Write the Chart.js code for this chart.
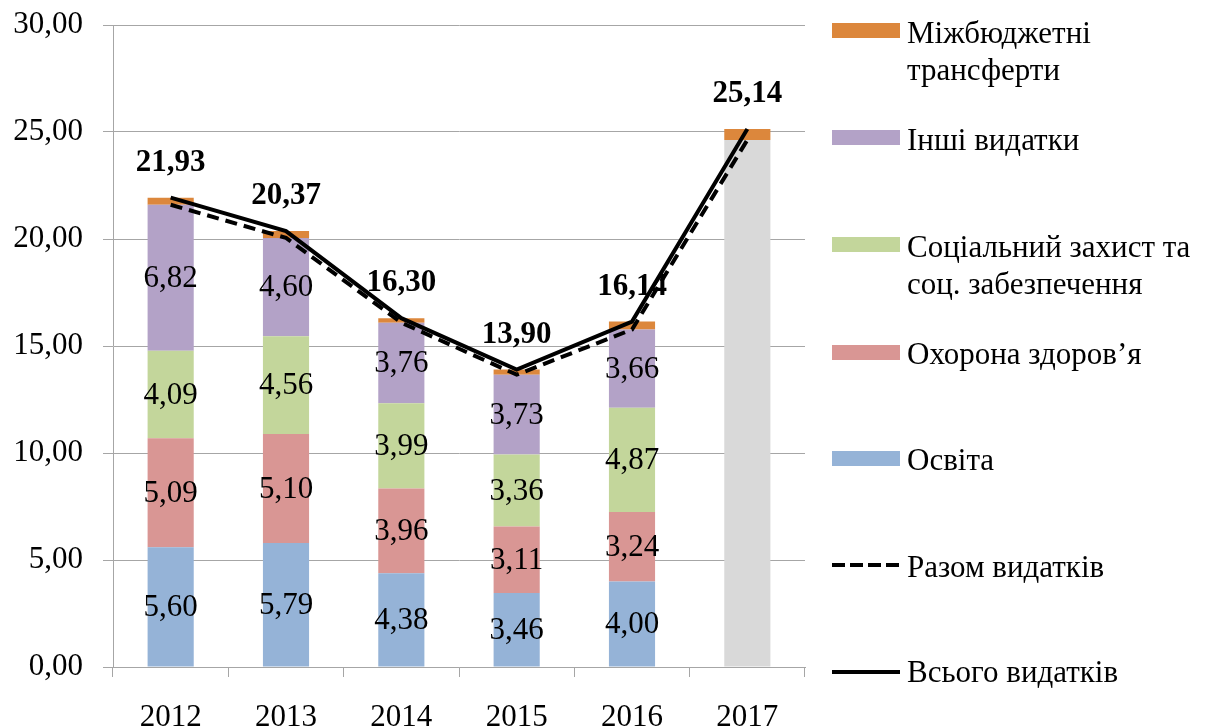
<!DOCTYPE html>
<html>
<head>
<meta charset="utf-8">
<script src="https://cdn.jsdelivr.net/npm/chart.js@4.4.0/dist/chart.umd.min.js"></script>
<style>
  html, body { margin: 0; padding: 0; background: #fff; overflow: hidden; }
  #wrap { position: relative; width: 1211px; height: 727px; }
  #wrap canvas { position: absolute; left: 0; top: 0; }
  .leg { position: absolute; left: 907px; font: 31px 'Liberation Serif', 'Times New Roman', serif; line-height: 37px; color: #000; white-space: nowrap; }
  .sw { position: absolute; left: 832px; width: 68px; }
</style>
</head>
<body>
<div id="wrap">
  <canvas id="budgetChart" width="1211" height="727"></canvas>
</div>
<script>
// data
const years = ['2012', '2013', '2014', '2015', '2016', '2017'];
const osvita = [5.60, 5.79, 4.38, 3.46, 4.00, null];
const zdorovia = [5.09, 5.10, 3.96, 3.11, 3.24, null];
const sotszakhyst = [4.09, 4.56, 3.99, 3.36, 4.87, null];
const inshi = [6.82, 4.60, 3.76, 3.73, 3.66, null];
const prognoz = [null, null, null, null, null, 24.63];
const transferty = [0.33, 0.32, 0.21, 0.24, 0.37, 0.51];
const razom = [21.60, 20.05, 16.09, 13.66, 15.77, 24.63];
const vsogo = [21.93, 20.37, 16.30, 13.90, 16.14, 25.14];
const yTicks = [0, 5, 10, 15, 20, 25, 30];

const serif = "'Liberation Serif', 'Times New Roman', serif";
const grid = '#a6a6a6';
const fmt = v => v.toFixed(2).replace('.', ',');

Chart.defaults.font.family = serif;
Chart.defaults.font.size = 31;
Chart.defaults.color = '#000';

// numbers inside segments and bold totals above the solid line
const valueLabels = {
  id: 'valueLabels',
  afterDatasetsDraw(chart) {
    const ctx = chart.ctx;
    ctx.save();
    ctx.fillStyle = '#000';
    ctx.textAlign = 'center';
    ctx.textBaseline = 'middle';
    chart.data.datasets.forEach((ds, i) => {
      if (!ds.labelMode) return;
      chart.getDatasetMeta(i).data.forEach((el, j) => {
        const v = ds.data[j];
        if (v == null) return;
        if (ds.labelMode === 'top') {
          ctx.font = 'bold 31px ' + serif;
          ctx.fillText(fmt(v), el.x, el.y - 35);
        } else {
          ctx.font = '31px ' + serif;
          ctx.fillText(fmt(v), el.x, (el.y + el.base) / 2 + 1);
        }
      });
    });
    ctx.restore();
  }
};

const ctx = document.getElementById('budgetChart').getContext('2d');
new Chart(ctx, {
  type: 'bar',
  data: {
    labels: years,
    datasets: [
      { type: 'line', label: 'Всього видатків', data: vsogo, borderColor: '#000', borderWidth: 4,
        pointRadius: 0, tension: 0, stack: 'l1', order: 0, labelMode: 'top' },
      { type: 'line', label: 'Разом видатків', data: razom, borderColor: '#000', borderWidth: 4,
        borderDash: [12, 7], pointRadius: 0, tension: 0, stack: 'l2', order: 0 },
      { label: 'Освіта', data: osvita, backgroundColor: '#95b3d7', stack: 'b', order: 1, labelMode: 'mid' },
      { label: 'Охорона здоров’я', data: zdorovia, backgroundColor: '#d99694', stack: 'b', order: 1, labelMode: 'mid' },
      { label: 'Соціальний захист та соц. забезпечення', data: sotszakhyst, backgroundColor: '#c3d69b', stack: 'b', order: 1, labelMode: 'mid' },
      { label: 'Інші видатки', data: inshi, backgroundColor: '#b3a2c7', stack: 'b', order: 1, labelMode: 'mid' },
      { label: '2017', data: prognoz, backgroundColor: '#d9d9d9', stack: 'b', order: 1 },
      { label: 'Міжбюджетні трансферти', data: transferty, backgroundColor: '#dc873c', stack: 'b', order: 1 }
    ]
  },
  options: {
    responsive: false,
    animation: false,
    barPercentage: 0.4,
    categoryPercentage: 1,
    layout: { padding: { top: 25, right: 406, left: 0, bottom: 0 } },
    plugins: { legend: { display: false }, tooltip: { enabled: false } },
    scales: {
      x: {
        stacked: true,
        grid: { drawOnChartArea: false, color: grid, tickLength: 10 },
        border: { color: grid },
        ticks: { padding: 22, maxRotation: 0 },
        afterFit: s => { s.height = 60; s.paddingLeft = 0; s.paddingRight = 0; }
      },
      y: {
        stacked: true,
        min: 0,
        max: 30,
        afterBuildTicks: s => { s.ticks = yTicks.map(v => ({ value: v })); },
        grid: { color: grid, tickLength: 10 },
        border: { color: grid },
        ticks: { padding: 20, callback: v => fmt(v) },
        afterFit: s => { s.width = 113; s.paddingTop = 0; s.paddingBottom = 0; }
      }
    }
  },
  plugins: [valueLabels]
});

// legend on the right
const legendItems = [
  { text: 'Міжбюджетні<br>трансферти', color: '#dc873c', top: 14, sw: 23 },
  { text: 'Інші видатки', color: '#b3a2c7', top: 121, sw: 130 },
  { text: 'Соціальний захист та<br>соц. забезпечення', color: '#c3d69b', top: 228, sw: 237 },
  { text: 'Охорона здоров’я', color: '#d99694', top: 335, sw: 345 },
  { text: 'Освіта', color: '#95b3d7', top: 441, sw: 451 },
  { text: 'Разом видатків', line: 'dashed', top: 548, sw: 563 },
  { text: 'Всього видатків', line: 'solid', top: 653, sw: 670 }
];
const wrap = document.getElementById('wrap');
legendItems.forEach(it => {
  const sw = document.createElement('div');
  sw.className = 'sw';
  sw.style.top = it.sw + 'px';
  if (it.line === 'solid') {
    sw.style.height = '4px';
    sw.style.background = '#000';
  } else if (it.line === 'dashed') {
    sw.style.height = '4px';
    sw.style.background = 'repeating-linear-gradient(90deg, #000 0 13px, transparent 13px 18px)';
  } else {
    sw.style.height = '15px';
    sw.style.background = it.color;
  }
  wrap.appendChild(sw);
  const tx = document.createElement('div');
  tx.className = 'leg';
  tx.style.top = it.top + 'px';
  tx.innerHTML = it.text;
  wrap.appendChild(tx);
});
</script>
</body>
</html>
